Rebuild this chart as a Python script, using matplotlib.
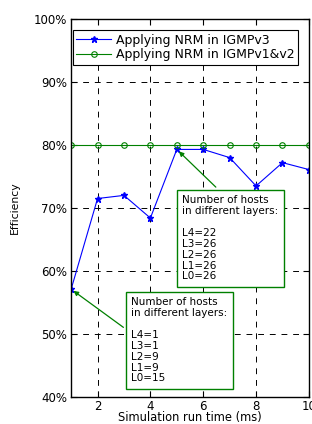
import matplotlib
matplotlib.use("Agg")
import matplotlib.pyplot as plt
from matplotlib.ticker import FuncFormatter

plt.rcParams['font.family'] = ['DejaVu Sans']

# dados
sim_time = [1, 2, 3, 4, 5, 6, 7, 8, 9, 10]
eff_v3 = [57.1, 71.5, 72.0, 68.4, 79.3, 79.3, 78.0, 73.5, 77.2, 76.1]
eff_v12 = [80, 80, 80, 80, 80, 80, 80, 80, 80, 80]

label_v3 = "Applying NRM in IGMPv3"
label_v12 = "Applying NRM in IGMPv1&v2"

note_high = "Number of hosts\nin different layers:\n\nL4=22\nL3=26\nL2=26\nL1=26\nL0=26"
note_low = "Number of hosts\nin different layers:\n\nL4=1\nL3=1\nL2=9\nL1=9\nL0=15"

fig = plt.figure(figsize=(3.12, 4.24), dpi=100)
ax = fig.add_axes([0.228, 0.064, 0.762, 0.891])

ax.plot(sim_time, eff_v3, color="blue", marker="*", markersize=5, linewidth=0.8,
        label=label_v3)
ax.plot(sim_time, eff_v12, color="green", marker="o", markersize=4,
        markerfacecolor="none", markeredgewidth=0.8, linewidth=0.8, label=label_v12)

ax.set_xlim(1, 10)
ax.set_ylim(40, 100)
ax.set_xticks([2, 4, 6, 8, 10])
ax.set_yticks(range(40, 101, 10))
ax.yaxis.set_major_formatter(FuncFormatter(lambda v, p: f"{v:.0f}%"))
ax.tick_params(direction="in", labelsize=8.5, top=True, right=True, length=4, pad=3)
ax.tick_params(axis="x", pad=2)
ax.grid(True, color="black", linestyle=(0, (6, 6)), linewidth=0.7)
for s in ax.spines.values():
    s.set_linewidth(1.0)

ax.set_xlabel("Simulation run time (ms)", fontsize=8.3, labelpad=-1)
ax.set_ylabel("Efficiency", fontsize=7.8, labelpad=10)

leg = ax.legend(loc="upper left", bbox_to_anchor=(0.008, 0.97), borderaxespad=0,
                fontsize=9, handlelength=2.8, fancybox=False, framealpha=1,
                edgecolor="black", borderpad=0.25, labelspacing=0.15,
                handletextpad=0.4)
leg.get_frame().set_linewidth(0.8)

box = dict(boxstyle="square,pad=0.5", facecolor="white", edgecolor="green", linewidth=1)

ax.annotate(note_high + "   ", xy=(sim_time[4], eff_v3[4]), xytext=(5.21, 72.1),
            fontsize=7.5, va="top", ha="left", bbox=box, linespacing=1.12,
            arrowprops=dict(arrowstyle="-|>", color="green", linewidth=0.9,
                            mutation_scale=7, relpos=(0.43, 1.0)))
ax.annotate(note_low + "   ", xy=(sim_time[0], eff_v3[0]), xytext=(3.28, 55.9),
            fontsize=7.5, va="top", ha="left", bbox=box, linespacing=1.12,
            arrowprops=dict(arrowstyle="-|>", color="green", linewidth=0.9,
                            mutation_scale=7, relpos=(0.0, 0.58)))

fig.savefig("out.png", dpi=100)
